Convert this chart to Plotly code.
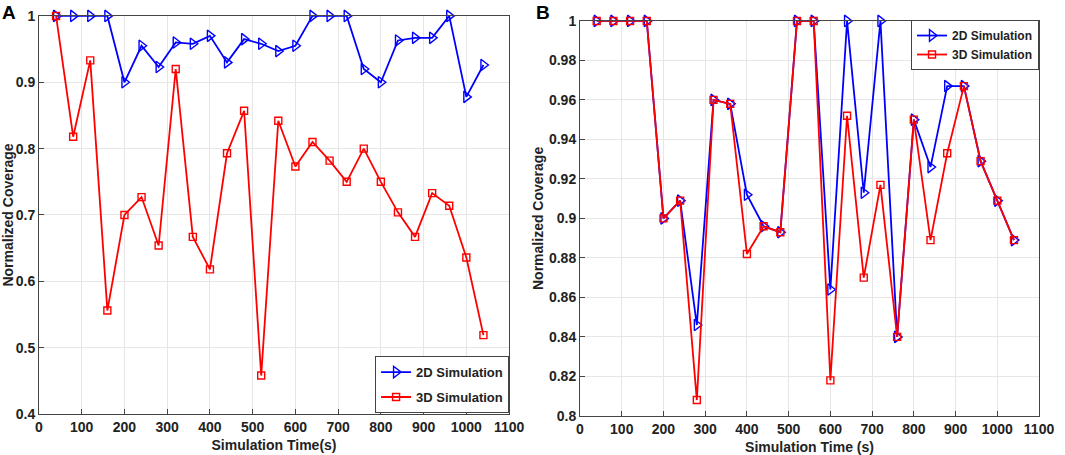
import plotly.graph_objects as go

# simulation times (s)
times = [40, 80, 120, 160, 200, 240, 280, 320, 360, 400, 440, 480, 520,
         560, 600, 640, 680, 720, 760, 800, 840, 880, 920, 960, 1000, 1040]

# panel A
a_2d = [1, 1, 1, 1, 0.9, 0.955, 0.923, 0.96, 0.958, 0.97, 0.93, 0.965, 0.958,
        0.947, 0.955, 1, 1, 1, 0.92, 0.9, 0.963, 0.967, 0.967, 1, 0.878, 0.926]
a_3d = [1, 0.818, 0.933, 0.556, 0.7, 0.727, 0.654, 0.92, 0.667, 0.618, 0.793, 0.857, 0.458,
        0.842, 0.773, 0.81, 0.782, 0.75, 0.8, 0.75, 0.704, 0.667, 0.733, 0.714, 0.636, 0.519]

# panel B
b_2d = [1, 1, 1, 1, 0.9, 0.909, 0.846, 0.96, 0.958, 0.912, 0.896, 0.893, 1,
        1, 0.864, 1, 0.913, 1, 0.84, 0.95, 0.926, 0.967, 0.967, 0.929, 0.909, 0.889]
b_3d = [1, 1, 1, 1, 0.9, 0.909, 0.808, 0.96, 0.958, 0.882, 0.896, 0.893, 1,
        1, 0.818, 0.952, 0.87, 0.917, 0.84, 0.95, 0.889, 0.933, 0.967, 0.929, 0.909, 0.889]

BLUE = "#0000ff"
RED = "#ff0000"
FONT = "Liberation Sans"

fig = go.Figure()

def add_series(y, name, color, symbol, size, xa, ya, legend, group):
    fig.add_trace(go.Scatter(
        x=times, y=y, name=name, mode="lines+markers", cliponaxis=False,
        line=dict(color=color, width=1.8),
        marker=dict(symbol=symbol, size=size, color=color,
                    line=dict(color=color, width=1.4)),
        xaxis=xa, yaxis=ya, legend=legend, legendgroup=group))

add_series(a_2d, "2D Simulation", BLUE, "triangle-right-open", 10, "x", "y", "legend", "a2")
add_series(a_3d, "3D Simulation", RED, "square-open", 7, "x", "y", "legend", "a3")
add_series(b_2d, "2D Simulation", BLUE, "triangle-right-open", 10, "x2", "y2", "legend2", "b2")
add_series(b_3d, "3D Simulation", RED, "square-open", 7, "x2", "y2", "legend2", "b3")

axis_common = dict(
    showline=True, linecolor="#444", linewidth=1, mirror=True,
    ticks="inside", ticklen=5, tickcolor="#444", automargin=False,
    showgrid=True, gridcolor="#e6e6e6", gridwidth=1, zeroline=False,
    tickfont=dict(family=FONT, size=14, color="#222", weight="bold"),
)
title_font = dict(family=FONT, size=14, color="#222", weight="bold")

fig.update_layout(
    width=1065, height=455,
    margin=dict(l=0, r=0, t=0, b=0, autoexpand=False),
    paper_bgcolor="white", plot_bgcolor="white",
    font=dict(family=FONT, color="#222"),
    xaxis=dict(domain=[0.0366, 0.478], range=[0, 1100], dtick=100,
               title=dict(text="Simulation Time(s)", font=title_font, standoff=6),
               anchor="y", **axis_common),
    yaxis=dict(domain=[0.090, 0.965], range=[0.4, 1], dtick=0.1,
               title=dict(text="Normalized Coverage", font=title_font, standoff=2),
               anchor="x", tickformat="~g", **axis_common),
    xaxis2=dict(domain=[0.5446, 0.9756], range=[0, 1100], dtick=100,
                title=dict(text="Simulation Time (s)", font=title_font, standoff=6),
                anchor="y2", **axis_common),
    yaxis2=dict(domain=[0.086, 0.954], range=[0.8, 1], dtick=0.02,
                title=dict(text="Normalized Coverage", font=title_font, standoff=2),
                anchor="x2", tickformat="~g", **axis_common),
    legend=dict(x=0.478, y=0.092, xanchor="right", yanchor="bottom",
                bgcolor="white", bordercolor="#444", borderwidth=1,
                font=dict(family=FONT, size=13, color="#222", weight="bold"),
                itemwidth=30, traceorder="grouped", tracegroupgap=5),
    legend2=dict(x=0.9756, y=0.956, xanchor="right", yanchor="top",
                 bgcolor="white", bordercolor="#444", borderwidth=1,
                 font=dict(family=FONT, size=12, color="#222", weight="bold"),
                 itemwidth=30, traceorder="grouped", tracegroupgap=0),
    annotations=[
        dict(text="A", x=0.0, y=1.0, xref="paper", yref="paper",
             xanchor="left", yanchor="top", showarrow=False,
             font=dict(family=FONT, size=19, color="black", weight="bold")),
        dict(text="B", x=0.501, y=1.0, xref="paper", yref="paper",
             xanchor="left", yanchor="top", showarrow=False,
             font=dict(family=FONT, size=19, color="black", weight="bold")),
    ],
)

# drop the default page margin so the figure sits at the window's corner
fig.write_html("out.html", config={"displayModeBar": False},
               post_script="document.body.style.margin='0';")
